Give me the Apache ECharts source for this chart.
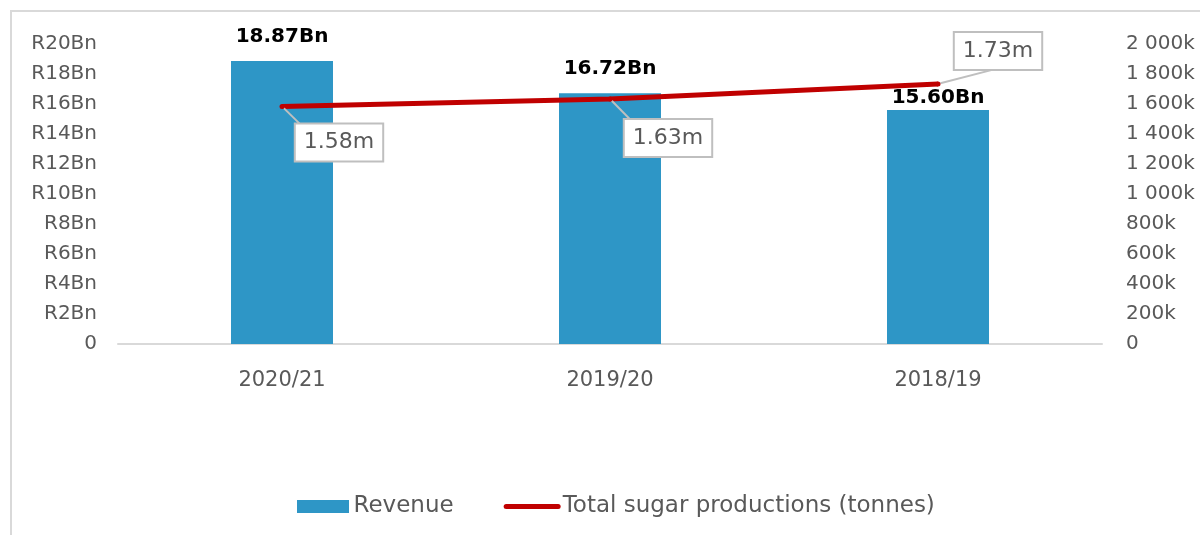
<!DOCTYPE html>
<html>
<head>
<meta charset="utf-8">
<script src="https://cdn.jsdelivr.net/npm/echarts@6/dist/echarts.min.js"></script>
<style>
  html, body { margin: 0; padding: 0; background: #fff; overflow: hidden; width: 1200px; height: 535px; }
  .frame {
    position: absolute;
    left: 10px;
    top: 10px;
    width: 1400px;
    height: 800px;
    border-top: 2px solid #d9d9d9;
    border-left: 2px solid #d9d9d9;
  }
  #chart { position: absolute; left: 0; top: 0; width: 1200px; height: 535px; }
</style>
</head>
<body>
<div class="frame"></div>
<div id="chart"></div>
<script>
// 数据
var seasons = ['2020/21', '2019/20', '2018/19']
var revenueBn = [18.87, 16.72, 15.6]
var sugarTonnes = [1584000, 1634000, 1734000]

var font = '"DejaVu Sans", sans-serif'
var grey = '#595959'

// 柱子标签与折线标签的位置微调
var barLabelDist = [14, 14, 2]
var calloutOffset = [[57, 36], [58, 39], [60, -33]]

var chart = echarts.init(document.getElementById('chart'))

var option = {
  animation: false,
  textStyle: { fontFamily: font },
  grid: { left: 118, right: 98, top: 44, bottom: 191 },
  legend: {
    bottom: 12,
    left: 292,
    itemGap: 50,
    itemWidth: 57,
    itemHeight: 13,
    textStyle: { color: grey, fontSize: 23, fontFamily: font, padding: [0, 0, 0, -3] },
    data: [
      { name: 'Revenue', icon: 'path://M0,0 H52 V13 H0 Z' },
      {
        name: 'Total sugar productions (tonnes)',
        icon: 'path://M2.5,0 H54.5 A2.5,2.5 0 0 1 54.5,5 H2.5 A2.5,2.5 0 0 1 2.5,0 Z'
      }
    ]
  },
  xAxis: {
    type: 'category',
    data: seasons,
    axisLine: { lineStyle: { color: '#d9d9d9', width: 2 } },
    axisTick: { show: false },
    axisLabel: { color: grey, fontSize: 21, margin: 26 }
  },
  yAxis: [
    {
      type: 'value',
      min: 0,
      max: 20,
      interval: 2,
      splitLine: { show: false },
      axisLine: { show: false },
      axisLabel: {
        color: grey,
        fontSize: 20,
        margin: 21,
        formatter: function (v) { return v === 0 ? '0' : 'R' + v + 'Bn' }
      }
    },
    {
      type: 'value',
      min: 0,
      max: 2000000,
      interval: 200000,
      splitLine: { show: false },
      axisLine: { show: false },
      axisLabel: {
        color: grey,
        fontSize: 20,
        margin: 24,
        align: 'left',
        formatter: function (v) {
          if (v === 0) return '0'
          var k = v / 1000
          return (k >= 1000 ? Math.floor(k / 1000) + ' ' + String(k % 1000).padStart(3, '0') : k) + 'k'
        }
      }
    }
  ],
  series: [
    {
      name: 'Revenue',
      type: 'bar',
      barWidth: 102,
      itemStyle: { color: '#2e96c6' },
      data: revenueBn.map(function (v, i) {
        return {
          value: v,
          label: {
            show: true,
            position: 'top',
            distance: barLabelDist[i],
            color: '#000',
            fontWeight: 'bold',
            fontSize: 20,
            formatter: function (p) { return p.value.toFixed(2) + 'Bn' }
          }
        }
      })
    },
    {
      name: 'Total sugar productions (tonnes)',
      type: 'line',
      yAxisIndex: 1,
      symbol: 'circle',
      symbolSize: 5,
      itemStyle: { color: '#c00000' },
      lineStyle: { color: '#c00000', width: 5 },
      labelLine: { show: true, lineStyle: { color: '#bfbfbf', width: 2 } },
      data: sugarTonnes.map(function (v, i) {
        return {
          value: v,
          label: {
            show: true,
            position: 'inside',
            offset: calloutOffset[i],
            color: grey,
            fontSize: 22,
            backgroundColor: '#fff',
            borderColor: '#bfbfbf',
            borderWidth: 2,
            padding: [8, 8, 6, 8],
            formatter: function (p) { return (p.value / 1000000).toFixed(2) + 'm' }
          }
        }
      })
    }
  ]
}

chart.setOption(option)
</script>
</body>
</html>
